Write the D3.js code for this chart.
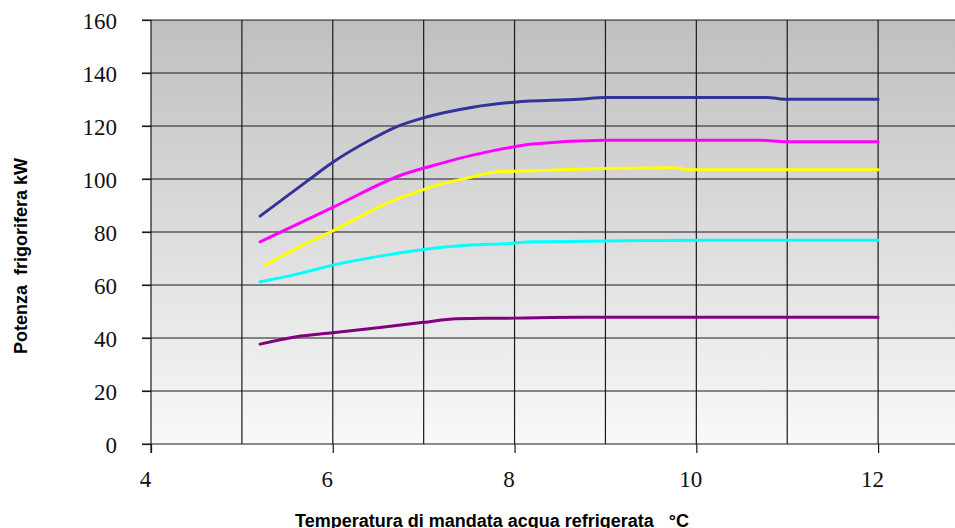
<!DOCTYPE html>
<html>
<head>
<meta charset="utf-8">
<script src="https://cdn.jsdelivr.net/npm/d3@7"></script>
<style>
  body { margin: 0; background: #fff; }
  svg { display: block; }
  .tick text { font-family: "Liberation Serif", "DejaVu Serif", serif; fill: #111; }
  .title { font-family: "Liberation Sans", Arial, sans-serif; font-weight: bold; font-size: 18px; fill: #000; }
</style>
</head>
<body>
<svg width="955" height="528"></svg>
<script>
// chart data (x = water temp °C, y = kW)
var xTicks = [4, 6, 8, 10, 12];
var yTicks = [0, 20, 40, 60, 80, 100, 120, 140, 160];

var blueX = [5.2, 5.71, 6.0, 6.41, 6.7, 7.0, 7.54, 8.0, 8.71, 9.0, 10.78, 10.97, 12.0];
var blueY = [86.0, 99.0, 106.3, 114.7, 119.7, 123.1, 127.1, 129.0, 130.1, 130.8, 130.8, 130.1, 130.1];

var magentaX = [5.2, 6.0, 6.77, 7.18, 7.54, 8.0, 8.2, 9.0, 10.7, 10.98, 12.0];
var magentaY = [76.3, 89.3, 101.7, 105.8, 109.0, 112.2, 113.2, 114.6, 114.6, 114.1, 114.1];

var yellowX = [5.26, 5.64, 6.0, 6.63, 7.0, 7.18, 7.47, 7.84, 8.2, 9.0, 9.76, 9.92, 12.0];
var yellowY = [67.5, 74.5, 80.4, 91.4, 96.0, 98.0, 100.3, 102.8, 103.1, 104.0, 104.2, 103.5, 103.5];

var cyanX = [5.2, 5.64, 6.0, 6.52, 7.0, 7.36, 8.0, 8.2, 9.0, 10.0, 12.0];
var cyanY = [61.2, 64.4, 67.5, 70.9, 73.4, 74.7, 75.8, 76.3, 76.6, 76.9, 76.9];

var purpleX = [5.2, 5.6, 6.0, 6.52, 7.0, 7.36, 8.0, 8.7, 12.0];
var purpleY = [37.7, 40.5, 42.0, 44.0, 45.9, 47.3, 47.5, 47.8, 47.8];

var seriesColors = ["#333399", "#ff00ff", "#ffff00", "#00ffff", "#800080"];

var svg = d3.select("svg");
var W = 955;
var plotLeft = 151, plotTop = 20, plotBottom = 444;

var x = d3.scaleLinear().domain([4, 13]).range([plotLeft, 969]);
var y = d3.scaleLinear().domain([0, 160]).range([plotBottom, plotTop]);

// background gradient
var defs = svg.append("defs");
var grad = defs.append("linearGradient").attr("id", "bg")
	.attr("x1", 0).attr("y1", 0).attr("x2", 0).attr("y2", 1);
grad.append("stop").attr("offset", "0%").attr("stop-color", "#bfbfbf");
grad.append("stop").attr("offset", "100%").attr("stop-color", "#f9f9f9");

svg.append("rect")
	.attr("x", plotLeft).attr("y", plotTop)
	.attr("width", W - plotLeft).attr("height", plotBottom - plotTop)
	.attr("fill", "url(#bg)");

// grid
var grid = svg.append("g").attr("stroke", "#1a1a1a").attr("stroke-width", 1.2);
yTicks.forEach(function(v) {
	grid.append("line")
		.attr("x1", plotLeft - 9).attr("x2", W)
		.attr("y1", y(v)).attr("y2", y(v));
});
d3.range(4, 13).forEach(function(v) {
	grid.append("line")
		.attr("x1", x(v)).attr("x2", x(v))
		.attr("y1", plotTop).attr("y2", v == 4 ? plotBottom + 9 : plotBottom);
});

// axes (labels + tick stubs)
var yAxis = d3.axisLeft(y).tickValues(yTicks).tickSize(9).tickPadding(25);
svg.append("g").attr("transform", "translate(" + plotLeft + ",0)").call(yAxis)
	.call(function(g) {
		g.select(".domain").remove();
		g.selectAll(".tick line").attr("stroke", "#1a1a1a").attr("stroke-width", 1.2);
		g.selectAll(".tick text").attr("font-size", 23).attr("dy", "0.35em");
	});

var xAxis = d3.axisBottom(x).tickValues(xTicks).tickSize(9).tickPadding(18);
svg.append("g").attr("transform", "translate(0," + plotBottom + ")").call(xAxis)
	.call(function(g) {
		g.select(".domain").remove();
		g.selectAll(".tick line").attr("stroke", "#1a1a1a").attr("stroke-width", 1.2);
		g.selectAll(".tick text").attr("font-size", 23).attr("dx", -6);
	});

// curves
var line = d3.line()
	.x(function(d) { return x(d[0]); })
	.y(function(d) { return y(d[1]); })
	.curve(d3.curveMonotoneX);

var allSeries = [
	d3.zip(blueX, blueY),
	d3.zip(magentaX, magentaY),
	d3.zip(yellowX, yellowY),
	d3.zip(cyanX, cyanY),
	d3.zip(purpleX, purpleY)
];

allSeries.forEach(function(pts, i) {
	svg.append("path")
		.attr("d", line(pts))
		.attr("fill", "none")
		.attr("stroke", seriesColors[i])
		.attr("stroke-width", 3)
		.attr("stroke-linecap", "round");
});

// axis titles
svg.append("text")
	.attr("class", "title")
	.attr("transform", "translate(27,256) rotate(-90)")
	.attr("text-anchor", "middle")
	.style("white-space", "pre")
	.text("Potenza  frigorifera kW");

svg.append("text")
	.attr("class", "title")
	.attr("x", 295).attr("y", 527)
	.style("white-space", "pre")
	.text("Temperatura di mandata acqua refrigerata   °C");
</script>
</body>
</html>
